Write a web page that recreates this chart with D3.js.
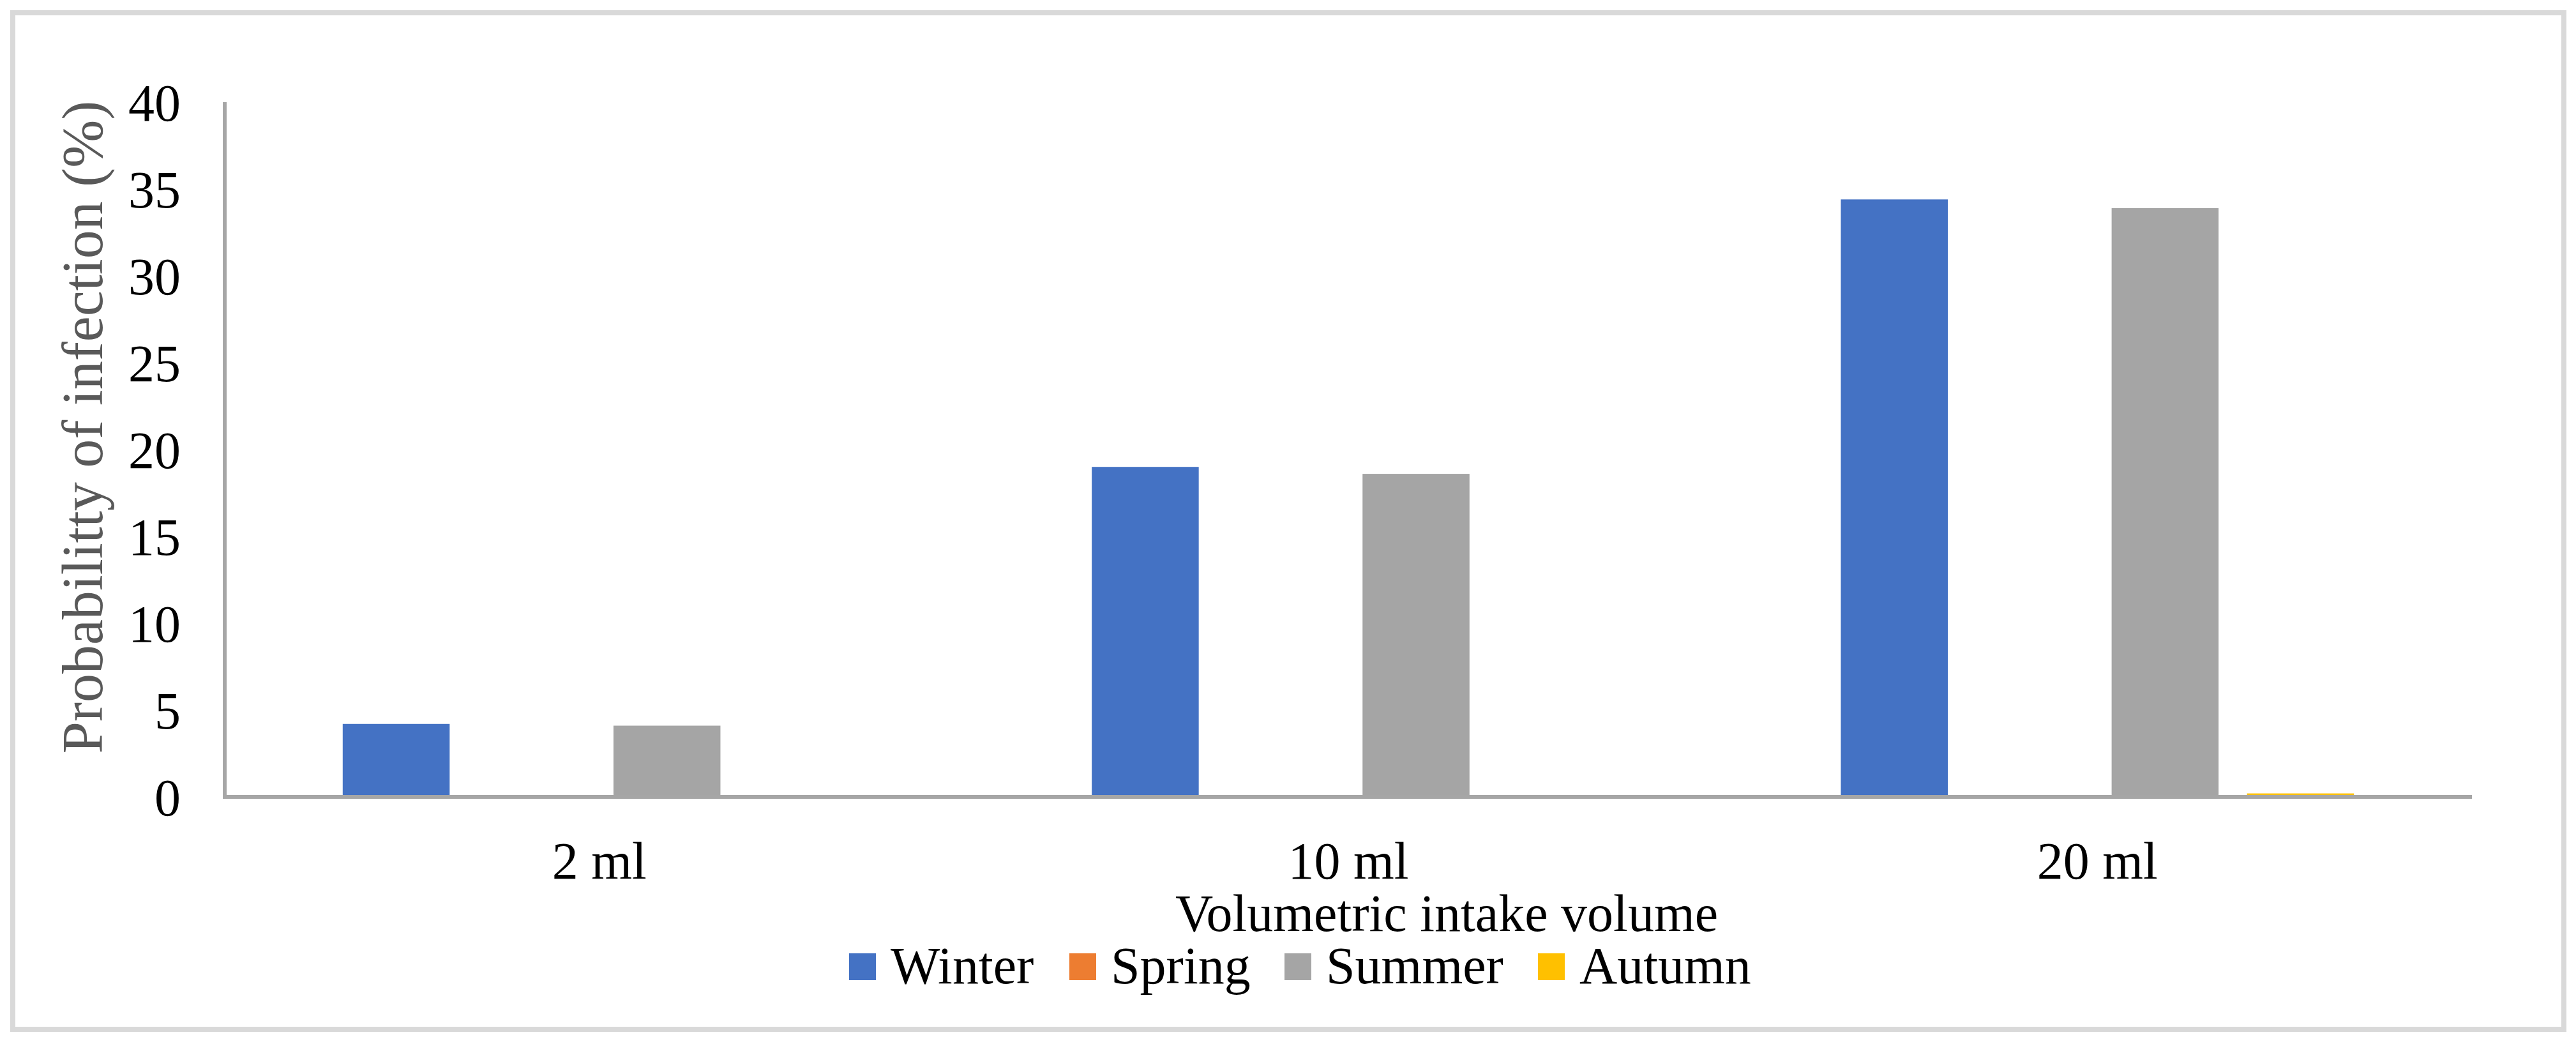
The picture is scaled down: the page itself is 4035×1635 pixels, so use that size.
<!DOCTYPE html>
<html>
<head>
<meta charset="utf-8">
<script src="https://cdn.jsdelivr.net/npm/d3@7"></script>
<style>
body { margin: 0; background: #fff; }
text { font-family: "Liberation Serif", "Times New Roman", serif; }
</style>
</head>
<body>
<div id="chart"></div>
<script>
var categories = ["2 ml", "10 ml", "20 ml"];
var seasons = ["Winter", "Spring", "Summer", "Autumn"];
var colors = ["#4472c4", "#ed7d31", "#a5a5a5", "#ffc000"];
var winter = [4.2, 19.0, 34.4];
var spring = [0, 0, 0];
var summer = [4.1, 18.6, 33.9];
var autumn = [0, 0, 0.2];
var yTicks = [0, 5, 10, 15, 20, 25, 30, 35, 40];

var seriesValues = [winter, spring, summer, autumn];

var W = 4035, H = 1635;
var margin = {top: 160, right: 163, bottom: 387, left: 352},
width = W - margin.left - margin.right,
height = H - margin.top - margin.bottom;

var svg = d3.select("#chart").append("svg")
    .attr("width", W)
    .attr("height", H);

// outer frame
svg.append("rect")
    .attr("x", 20).attr("y", 20)
    .attr("width", 3996).attr("height", 1592)
    .attr("fill", "#fff")
    .attr("stroke", "#d9d9d9")
    .attr("stroke-width", 8);

var g = svg.append("g")
    .attr("transform", "translate(" + margin.left + "," + margin.top + ")");

var x0 = d3.scaleBand().domain(categories).range([0, width]);
var groupW = x0.bandwidth() * 0.685;
var x1 = d3.scaleBand().domain(seasons)
    .range([-groupW / 2, groupW / 2])
    .paddingInner(0.21).paddingOuter(0);

var y = d3.scaleLinear().domain([0, 40]).range([height, 0]);

// bars
seasons.forEach(function(s, i) {
    g.selectAll(".bar-" + i)
        .data(seriesValues[i])
        .enter().append("rect")
        .attr("x", function(d, j) { return x0(categories[j]) + x0.bandwidth() / 2 + x1(s); })
        .attr("y", function(d) { return y(d); })
        .attr("width", x1.bandwidth())
        .attr("height", function(d) { return height - y(d); })
        .attr("fill", colors[i]);
});

// axes lines
g.append("line")
    .attr("x1", 0).attr("x2", 0).attr("y1", 0).attr("y2", height)
    .attr("stroke", "#a6a6a6").attr("stroke-width", 6);
g.append("line")
    .attr("x1", -3).attr("x2", width).attr("y1", height).attr("y2", height)
    .attr("stroke", "#a6a6a6").attr("stroke-width", 6);

// y tick labels
g.selectAll(".ytick")
    .data(yTicks).enter()
    .append("text")
    .attr("x", -69)
    .attr("y", function(d) { return y(d); })
    .attr("dy", "0.35em")
    .attr("text-anchor", "end")
    .attr("font-size", 82)
    .attr("fill", "#000")
    .text(function(d) { return d; });

// x tick labels
g.selectAll(".xtick")
    .data(categories).enter()
    .append("text")
    .attr("x", function(d) { return x0(d) + x0.bandwidth() / 2; })
    .attr("y", 1376 - margin.top)
    .attr("text-anchor", "middle")
    .attr("font-size", 82)
    .attr("fill", "#000")
    .text(function(d) { return d; });

// axis titles
svg.append("text")
    .attr("transform", "translate(160,669) rotate(-90)")
    .attr("text-anchor", "middle")
    .attr("font-size", 90)
    .attr("fill", "#595959")
    .text("Probabilitty of infection (%)");

svg.append("text")
    .attr("x", 2266)
    .attr("y", 1458)
    .attr("text-anchor", "middle")
    .attr("font-size", 82)
    .attr("fill", "#000")
    .text("Volumetric intake volume");

// legend
var legendX = [1330, 1675, 2012, 2409];
var legend = svg.selectAll(".legend")
    .data(seasons).enter()
    .append("g")
    .attr("transform", function(d, i) { return "translate(" + legendX[i] + ",1540)"; });
legend.append("rect")
    .attr("x", 0).attr("y", -47)
    .attr("width", 42).attr("height", 42)
    .attr("fill", function(d, i) { return colors[i]; });
legend.append("text")
    .attr("x", 65).attr("y", 0)
    .attr("font-size", 82)
    .attr("fill", "#000")
    .text(function(d) { return d; });
</script>
</body>
</html>
